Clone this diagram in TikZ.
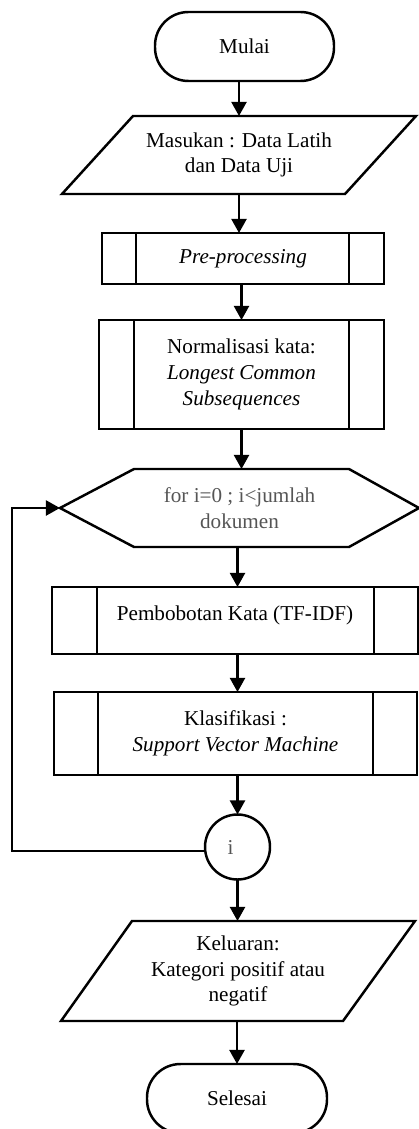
\documentclass[tikz,border=0pt]{standalone}
\usepackage{fontspec}
\setmainfont{Liberation Serif}
\usetikzlibrary{arrows.meta,calc}
\newcommand\pxl[1]{#1*0.5669pt}
\definecolor{softgray}{HTML}{555555}

\begin{document}
\begin{tikzpicture}[x=0.5669pt,y=-0.5669pt,
  every node/.style={font=\fontsize{12}{14.6}\selectfont, align=center,
    inner sep=0pt, outer sep=0pt},
  outline/.style={line width=1.4pt},
  terminal/.style={draw, outline, rectangle, rounded corners=19pt},
  frame/.style={rectangle},
  subproc/.style={draw, outline, rectangle},
  joint/.style={draw, outline, circle},
  arrow/.style={line width=1.4pt, -{Triangle[length=8pt,width=8.5pt]}}]

\useasboundingbox (0,0) rectangle (419,1129);

% --- nodes ---
\node[terminal, minimum width=\pxl{179}, minimum height=\pxl{69}] (start) at (244.5,46.5) {Mulai};
\node[frame, minimum width=\pxl{354}, minimum height=\pxl{78}] (in) at (239,155)
  {Masukan : Data Latih\\dan Data Uji};
\node[subproc, minimum width=\pxl{282}, minimum height=\pxl{51}] (pre) at (243,258.5)
  {\textit{Pre-processing}};
\node[subproc, minimum width=\pxl{285}, minimum height=\pxl{109}] (norm) at (241.5,374.5)
  {Normalisasi kata:\\\textit{Longest Common}\\\textit{Subsequences}};
\node[frame, minimum width=\pxl{359}, minimum height=\pxl{78}, text=softgray] (loop) at (239.5,508)
  {for i=0 ; i<jumlah\\dokumen};
\node[subproc, minimum width=\pxl{366}, minimum height=\pxl{67}] (tfidf) at (235,620.5)
  {\raisebox{0pt}[0pt][0pt]{Pembobotan Kata (TF-IDF)}};
\node[subproc, minimum width=\pxl{363}, minimum height=\pxl{83}] (svm) at (235.5,733.5)
  {Klasifikasi :\\\textit{Support Vector Machine}};
\node[joint, minimum size=\pxl{65}, text=softgray] (join) at (237.5,847) {i\hspace*{7.9pt}};
\node[frame, minimum width=\pxl{354}, minimum height=\pxl{100}] (out) at (238,971)
  {Keluaran:\\Kategori positif atau\\negatif};
\node[terminal, minimum width=\pxl{180}, minimum height=\pxl{69}] (stop) at (237,1098.5) {Selesai};

% --- shape outlines ---
\draw[outline] ($(in.north west)+(71,0)$) -- (in.north east)
  -- ($(in.south east)-(71,0)$) -- (in.south west) -- cycle;
\draw[outline] ($(out.north west)+(71,0)$) -- (out.north east)
  -- ($(out.south east)-(72,0)$) -- (out.south west) -- cycle;
\draw[outline] (loop.west) -- ($(loop.north west)+(74,0)$) -- ($(loop.north east)-(70,0)$)
  -- (loop.east) -- ($(loop.south east)-(70,0)$) -- ($(loop.south west)+(74,0)$) -- cycle;
\foreach \n/\a/\b in {pre/34/35, norm/35/35, tfidf/45/44, svm/44/44} {
  \draw[outline] ($(\n.north west)+(\a,0)$) -- ($(\n.south west)+(\a,0)$);
  \draw[outline] ($(\n.north east)-(\b,0)$) -- ($(\n.south east)-(\b,0)$);
}

% --- connectors ---
\draw[arrow] (start.south -| in.north) -- (in.north);
\draw[arrow] (in.south) -- (in.south |- pre.north);
\draw[arrow] (norm.north |- pre.south) -- (norm.north);
\draw[arrow] (norm.south) -- (norm.south |- loop.north);
\draw[arrow] (join.north |- loop.south) -- (join.north |- tfidf.north);
\draw[arrow] (join.north |- tfidf.south) -- (join.north |- svm.north);
\draw[arrow] (join.north |- svm.south) -- (join.north);
\draw[arrow] (join.south) -- (join.south |- out.north);
\draw[arrow] (out.south -| stop.north) -- (stop.north);
\coordinate (back) at (12,0);
\draw[arrow] (join.187) -| (back |- loop.west) -- (loop.west);

\end{tikzpicture}
\end{document}
